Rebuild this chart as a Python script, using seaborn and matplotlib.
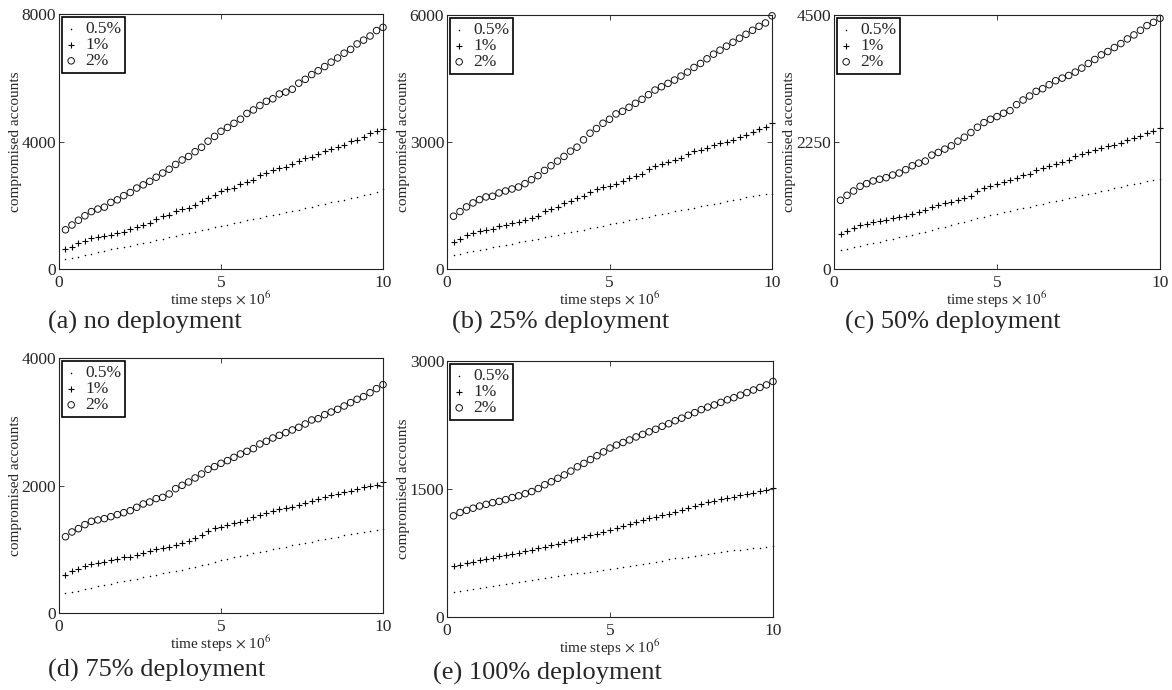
import numpy as np
import pandas as pd
import matplotlib
matplotlib.use("Agg")
import matplotlib.pyplot as plt
import seaborn as sns

# -------------------------------------------------------------
# Data (compromised accounts per time step)
# -------------------------------------------------------------
time_steps = [0.2, 0.4, 0.6, 0.8, 1.0, 1.2, 1.4, 1.6, 1.8, 2.0,
              2.2, 2.4, 2.6, 2.8, 3.0, 3.2, 3.4, 3.6, 3.8, 4.0,
              4.2, 4.4, 4.6, 4.8, 5.0, 5.2, 5.4, 5.6, 5.8, 6.0,
              6.2, 6.4, 6.6, 6.8, 7.0, 7.2, 7.4, 7.6, 7.8, 8.0,
              8.2, 8.4, 8.6, 8.8, 9.0, 9.2, 9.4, 9.6, 9.8, 10.0]

rates = ["0.5%", "1%", "2%"]

# (a) no deployment
none_05 = [300, 345, 390, 435, 480, 525, 570, 615, 655, 695,
           735, 775, 815, 860, 905, 950, 995, 1040, 1085, 1130,
           1175, 1220, 1265, 1310, 1350, 1390, 1435, 1480, 1525, 1570,
           1615, 1660, 1700, 1740, 1780, 1820, 1865, 1910, 1955, 2000,
           2045, 2090, 2135, 2180, 2225, 2270, 2315, 2360, 2410, 2500]
none_1 = [617, 701, 805, 889, 973, 990, 1020, 1077, 1140, 1161,
          1244, 1307, 1370, 1454, 1579, 1663, 1684, 1809, 1872, 1914,
          2018, 2123, 2228, 2311, 2437, 2520, 2541, 2667, 2729, 2792,
          2939, 3022, 3106, 3169, 3211, 3294, 3399, 3483, 3524, 3608,
          3713, 3775, 3838, 3901, 4005, 4047, 4152, 4256, 4340, 4403]
none_2 = [1230, 1380, 1530, 1670, 1800, 1880, 1940, 2090, 2170, 2300,
          2400, 2540, 2640, 2750, 2880, 3010, 3130, 3280, 3420, 3530,
          3680, 3820, 4010, 4160, 4320, 4440, 4570, 4700, 4880, 4990,
          5130, 5260, 5340, 5490, 5550, 5640, 5830, 5950, 6100, 6220,
          6350, 6490, 6620, 6770, 6890, 7060, 7180, 7310, 7480, 7580]

# (b) 25% deployment
dep25_05 = [337, 365, 395, 425, 450, 480, 510, 540, 570, 600,
            630, 660, 690, 720, 750, 780, 810, 840, 870, 900,
            930, 960, 990, 1020, 1055, 1090, 1120, 1150, 1180, 1210,
            1240, 1270, 1300, 1330, 1360, 1390, 1420, 1450, 1480, 1510,
            1540, 1570, 1600, 1630, 1660, 1690, 1720, 1745, 1765, 1780]
dep25_1 = [635, 714, 792, 855, 902, 933, 949, 1012, 1043, 1090,
           1122, 1169, 1216, 1263, 1373, 1420, 1467, 1561, 1608, 1671,
           1718, 1827, 1890, 1937, 1969, 2016, 2078, 2141, 2188, 2251,
           2361, 2423, 2471, 2533, 2580, 2627, 2706, 2784, 2816, 2847,
           2925, 2973, 3004, 3051, 3129, 3161, 3239, 3318, 3365, 3443]
dep25_2 = [1247, 1357, 1467, 1561, 1639, 1702, 1718, 1796, 1843, 1890,
           1937, 2016, 2110, 2204, 2329, 2439, 2549, 2659, 2784, 2878,
           3051, 3208, 3318, 3443, 3537, 3663, 3725, 3820, 3914, 4008,
           4118, 4227, 4306, 4384, 4463, 4557, 4651, 4761, 4855, 4965,
           5075, 5169, 5263, 5357, 5451, 5545, 5639, 5733, 5812, 5980]

# (c) 50% deployment
dep50_05 = [335, 360, 385, 410, 435, 460, 485, 510, 535, 560,
            585, 610, 635, 660, 690, 720, 750, 780, 810, 840,
            870, 900, 930, 955, 980, 1005, 1030, 1055, 1080, 1105,
            1130, 1155, 1180, 1205, 1230, 1255, 1280, 1305, 1330, 1355,
            1380, 1405, 1430, 1455, 1480, 1505, 1530, 1555, 1575, 1588]
dep50_1 = [618, 676, 723, 771, 806, 829, 853, 876, 900, 923,
           947, 982, 1018, 1053, 1100, 1135, 1171, 1194, 1229, 1253,
           1288, 1382, 1441, 1476, 1500, 1535, 1582, 1618, 1665, 1688,
           1759, 1794, 1829, 1865, 1900, 1935, 1994, 2029, 2065, 2100,
           2135, 2171, 2194, 2229, 2288, 2323, 2359, 2406, 2441, 2500]
dep50_2 = [1218, 1306, 1382, 1465, 1512, 1560, 1590, 1618, 1665, 1700,
           1759, 1829, 1876, 1912, 2018, 2065, 2124, 2182, 2265, 2335,
           2418, 2512, 2594, 2653, 2700, 2759, 2806, 2912, 2994, 3065,
           3147, 3194, 3265, 3335, 3382, 3429, 3488, 3559, 3641, 3712,
           3794, 3853, 3923, 3994, 4076, 4147, 4229, 4312, 4370, 4441]

# (d) 75% deployment
dep75_05 = [309, 330, 352, 375, 398, 420, 440, 460, 480, 500,
            520, 540, 560, 580, 600, 620, 640, 660, 680, 700,
            725, 750, 775, 800, 828, 850, 872, 894, 916, 938,
            960, 980, 1000, 1020, 1040, 1060, 1080, 1100, 1120, 1140,
            1160, 1180, 1200, 1220, 1240, 1255, 1270, 1285, 1300, 1310]
dep75_1 = [601, 654, 695, 737, 769, 790, 800, 831, 852, 873,
           884, 915, 936, 967, 999, 1020, 1041, 1062, 1093, 1124,
           1177, 1229, 1292, 1333, 1354, 1375, 1407, 1428, 1459, 1501,
           1543, 1563, 1595, 1626, 1647, 1668, 1699, 1731, 1752, 1783,
           1814, 1846, 1867, 1898, 1919, 1950, 1971, 1992, 2013, 2055]
dep75_2 = [1197, 1271, 1323, 1386, 1438, 1460, 1480, 1511, 1543, 1574,
           1605, 1658, 1710, 1741, 1794, 1814, 1867, 1950, 2003, 2055,
           2118, 2181, 2254, 2296, 2348, 2390, 2442, 2494, 2536, 2578,
           2651, 2693, 2745, 2787, 2829, 2871, 2913, 2965, 3028, 3048,
           3111, 3153, 3195, 3247, 3300, 3352, 3394, 3456, 3519, 3582]

# (e) 100% deployment
dep100_05 = [293, 305, 318, 330, 342, 355, 367, 378, 390, 400,
             411, 422, 433, 444, 455, 466, 477, 488, 499, 510,
             521, 532, 543, 554, 566, 578, 590, 602, 614, 626,
             638, 650, 662, 674, 686, 697, 708, 719, 730, 741,
             752, 762, 772, 781, 790, 798, 806, 814, 823, 832]
dep100_1 = [594, 615, 630, 648, 664, 680, 695, 710, 725, 742,
            755, 770, 787, 803, 820, 840, 858, 878, 898, 918,
            938, 958, 978, 997, 1016, 1040, 1065, 1090, 1115, 1141,
            1158, 1175, 1195, 1212, 1230, 1255, 1280, 1305, 1328, 1348,
            1364, 1380, 1395, 1410, 1426, 1442, 1458, 1475, 1490, 1508]
dep100_2 = [1185, 1225, 1250, 1275, 1300, 1320, 1340, 1355, 1375, 1400,
            1420, 1445, 1470, 1505, 1550, 1585, 1625, 1665, 1710, 1760,
            1800, 1845, 1890, 1935, 1980, 2015, 2045, 2075, 2110, 2140,
            2170, 2200, 2235, 2265, 2300, 2330, 2365, 2395, 2430, 2460,
            2485, 2515, 2545, 2570, 2600, 2630, 2660, 2690, 2720, 2760]

captions = ["(a) no deployment", "(b) 25% deployment", "(c) 50% deployment",
            "(d) 75% deployment", "(e) 100% deployment"]
y_max = [8000, 6000, 4500, 4000, 3000]
panel_series = [
    (none_05, none_1, none_2),
    (dep25_05, dep25_1, dep25_2),
    (dep50_05, dep50_1, dep50_2),
    (dep75_05, dep75_1, dep75_2),
    (dep100_05, dep100_1, dep100_2),
]

# -------------------------------------------------------------
# Style
# -------------------------------------------------------------
sns.set_style("ticks")
plt.rcParams["font.family"] = ["Liberation Serif", "DejaVu Serif"]
plt.rcParams["mathtext.fontset"] = "stix"
plt.rcParams["xtick.direction"] = "in"
plt.rcParams["ytick.direction"] = "in"

W, H = 1172, 690
fig = plt.figure(figsize=(W / 100, H / 100), dpi=100)

# axes boxes in pixels: left, top, right, bottom
boxes = [(59, 14, 383, 269), (447, 15, 772, 269), (834, 15, 1160, 269),
         (59, 358, 383, 613), (447, 361, 773, 617)]
caption_pos = [(48, 322), (452, 322), (845, 322), (48, 670), (433, 673)]

for i, (series, cap, ymax) in enumerate(zip(panel_series, captions, y_max)):
    l, t, r, b = boxes[i]
    ax = fig.add_axes([l / W, 1 - b / H, (r - l) / W, (b - t) / H])

    df = pd.DataFrame({"t": time_steps * 3,
                       "accounts": series[0] + series[1] + series[2],
                       "rate": np.repeat(rates, len(time_steps))})

    sns.scatterplot(data=df[df.rate == "0.5%"], x="t", y="accounts", marker=".",
                    color="black", s=5, linewidth=0, label="0.5%", ax=ax, clip_on=False)
    sns.scatterplot(data=df[df.rate == "1%"], x="t", y="accounts", marker="+",
                    color="black", s=20, linewidth=0.8, label="1%", ax=ax, clip_on=False)
    sns.scatterplot(data=df[df.rate == "2%"], x="t", y="accounts", marker="o",
                    facecolor="none", edgecolor="black", s=22, linewidth=0.65,
                    label="2%", ax=ax, clip_on=False)

    ax.set_xlim(0, 10)
    ax.set_ylim(0, ymax)
    ax.set_xticks([0, 5, 10])
    ax.set_yticks([0, ymax / 2, ymax])
    ax.set_yticklabels([str(int(v)) for v in [0, ymax / 2, ymax]])
    ax.tick_params(axis="both", which="both", top=True, right=True,
                   length=3.5, width=0.6, labelsize=12.5, pad=2)
    ax.tick_params(axis="x", pad=4)
    for sp in ax.spines.values():
        sp.set_visible(True)
        sp.set_linewidth(0.8)
        sp.set_color("#222222")

    ax.set_xlabel("time steps $\\times$ 10$^{6}$", fontsize=11, labelpad=-1)
    ax.set_ylabel("compromised accounts", fontsize=11, labelpad=0)

    leg = ax.legend(loc="upper left", fontsize=12.5, frameon=True, fancybox=False,
                    edgecolor="black", framealpha=1, borderpad=0.2,
                    labelspacing=0.0, handlelength=0.6, handletextpad=0.5,
                    borderaxespad=0.2, markerscale=1.0)
    leg.get_frame().set_linewidth(1.2)

    cx, cy = caption_pos[i]
    fig.text(cx / W, 1 - cy / H, cap, fontsize=19, ha="left", va="center")

fig.savefig("out.png", dpi=100)
